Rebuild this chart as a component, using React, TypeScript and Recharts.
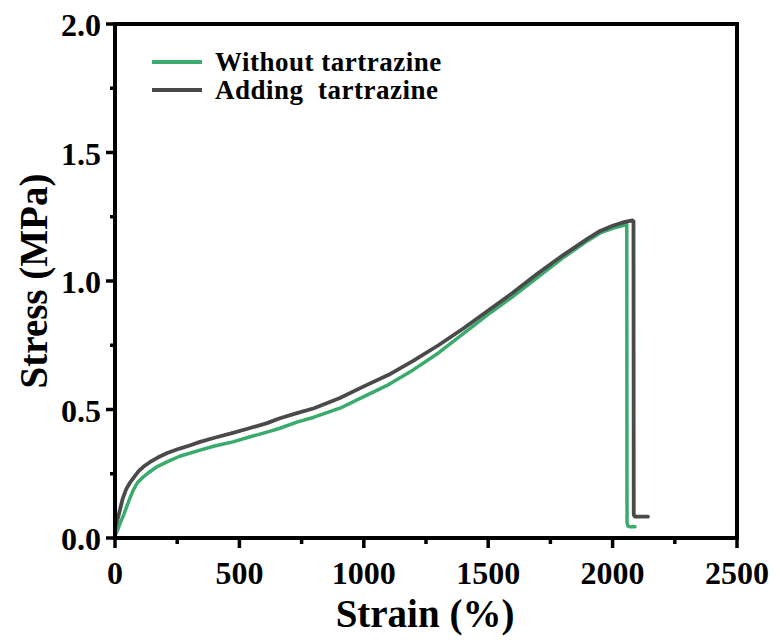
import React from 'react';
import { LineChart, Line, XAxis, YAxis, ReferenceArea, Legend, Label } from 'recharts';

// Without tartrazine (green)
const withoutStrain = [0, 10, 20, 35, 47, 60, 74, 90, 113, 140, 170, 209, 260, 342, 400, 474, 540, 611, 663, 731, 800, 904, 1000, 1100, 1200, 1300, 1400, 1500, 1600, 1700, 1800, 1900, 1950, 2000, 2030, 2050, 2057, 2058, 2062, 2070, 2090];
const withoutStress = [0.01, 0.03, 0.057, 0.09, 0.122, 0.155, 0.187, 0.215, 0.237, 0.258, 0.278, 0.296, 0.318, 0.342, 0.358, 0.374, 0.393, 0.412, 0.427, 0.451, 0.47, 0.505, 0.55, 0.597, 0.655, 0.72, 0.795, 0.87, 0.94, 1.015, 1.09, 1.157, 1.187, 1.205, 1.213, 1.218, 1.22, 0.06, 0.046, 0.044, 0.044];

// Adding tartrazine (dark gray)
const addingStrain = [0, 15, 30, 45, 60, 75, 95, 115, 140, 170, 210, 260, 300, 342, 400, 474, 540, 611, 663, 731, 800, 904, 1000, 1100, 1200, 1300, 1400, 1500, 1600, 1700, 1800, 1900, 1950, 2000, 2050, 2080, 2084, 2085, 2090, 2110, 2142];
const addingStress = [0.04, 0.09, 0.15, 0.19, 0.215, 0.235, 0.26, 0.278, 0.295, 0.312, 0.331, 0.348, 0.36, 0.374, 0.39, 0.409, 0.427, 0.447, 0.466, 0.486, 0.505, 0.545, 0.59, 0.635, 0.69, 0.75, 0.815, 0.885, 0.955, 1.03, 1.1, 1.165, 1.195, 1.215, 1.23, 1.236, 1.232, 0.09, 0.083, 0.083, 0.083];

const xTicks = [0, 250, 500, 750, 1000, 1250, 1500, 1750, 2000, 2250, 2500];
const yTicks = [0, 0.25, 0.5, 0.75, 1.0, 1.25, 1.5, 1.75, 2.0];

const seriesNames = ['Without tartrazine', 'Adding  tartrazine'];
const seriesColors = ['#3aab6c', '#4a4a4a'];

const withoutData = withoutStrain.map((x, i) => ({ x, y: withoutStress[i] }));
const addingData = addingStrain.map((x, i) => ({ x, y: addingStress[i] }));

const FONT = '"Liberation Serif", "Times New Roman", serif';

const XTick = (props: any) => {
  const { x, y, payload } = props;
  const v = payload.value as number;
  const major = v % 500 === 0;
  return (
    <g>
      <line x1={x} y1={y} x2={x} y2={y + (major ? 10 : 6)} stroke="#000" strokeWidth={3.5} />
      {major && (
        <text x={x} y={y + 46} textAnchor="middle" fontFamily={FONT} fontWeight="bold" fontSize={32} fill="#000">
          {v}
        </text>
      )}
    </g>
  );
};

const YTick = (props: any) => {
  const { x, y, payload } = props;
  const v = payload.value as number;
  const major = Math.abs(v * 2 - Math.round(v * 2)) < 1e-6;
  return (
    <g>
      <line x1={x} y1={y} x2={x - (major ? 9 : 5)} y2={y} stroke="#000" strokeWidth={3.5} />
      {major && (
        <text x={x - 14} y={y + 12} textAnchor="end" fontFamily={FONT} fontWeight="bold" fontSize={32} fill="#000">
          {v.toFixed(1)}
        </text>
      )}
    </g>
  );
};

const LegendContent = () => (
  <div style={{ fontFamily: FONT, fontWeight: 'bold', fontSize: 27, color: '#000', letterSpacing: '0.5px' }}>
    {seriesNames.map((n, i) => (
      <div key={n} style={{ display: 'flex', alignItems: 'center', height: 28 }}>
        <div style={{ width: 50, height: 4, background: seriesColors[i], marginRight: 13 }} />
        <span style={{ whiteSpace: 'pre', lineHeight: '28px' }}>{n}</span>
      </div>
    ))}
  </div>
);

export default function App() {
  return (
    <div style={{ position: 'absolute', left: 0, top: 0, width: 780, height: 642, background: '#fff' }}>
      <LineChart width={780} height={642} margin={{ top: 24, right: 43, bottom: 0, left: 0 }}>
        <XAxis
          type="number"
          dataKey="x"
          domain={[0, 2500]}
          ticks={xTicks}
          interval={0}
          tickSize={0}
          tickMargin={0}
          tick={<XTick />}
          axisLine={{ stroke: '#000', strokeWidth: 4 }}
          height={104}
        >
          <Label
            content={() => (
              <text x={425} y={627} textAnchor="middle" fontFamily={FONT} fontWeight="bold" fontSize={39} fill="#000">
                Strain (%)
              </text>
            )}
          />
        </XAxis>
        <YAxis
          type="number"
          dataKey="y"
          domain={[0, 2]}
          ticks={yTicks}
          interval={0}
          tickSize={0}
          tickMargin={0}
          tick={<YTick />}
          axisLine={{ stroke: '#000', strokeWidth: 4 }}
          width={115}
        >
          <Label
            content={() => (
              <text
                x={33}
                y={281}
                textAnchor="middle"
                dominantBaseline="central"
                transform="rotate(-90 33 281)"
                fontFamily={FONT}
                fontWeight="bold"
                fontSize={39}
                fill="#000"
              >
                Stress (MPa)
              </text>
            )}
          />
        </YAxis>
        <Legend
          layout="horizontal"
          verticalAlign="middle"
          align="center"
          content={<LegendContent />}
          wrapperStyle={{ position: 'absolute', left: 152, top: 48, width: 340, height: 56 }}
        />
        <Line
          data={withoutData}
          dataKey="y"
          name={seriesNames[0]}
          type="linear"
          stroke={seriesColors[0]}
          strokeWidth={3.5}
          strokeLinejoin="round"
          strokeLinecap="round"
          dot={false}
          activeDot={false}
          isAnimationActive={false}
        />
        <Line
          data={addingData}
          dataKey="y"
          name={seriesNames[1]}
          type="linear"
          stroke={seriesColors[1]}
          strokeWidth={3.8}
          strokeLinejoin="round"
          strokeLinecap="round"
          dot={false}
          activeDot={false}
          isAnimationActive={false}
        />
        <ReferenceArea x1={0} x2={2500} y1={0} y2={2} fill="none" stroke="#000" strokeWidth={4} ifOverflow="visible" />
      </LineChart>
    </div>
  );
}
